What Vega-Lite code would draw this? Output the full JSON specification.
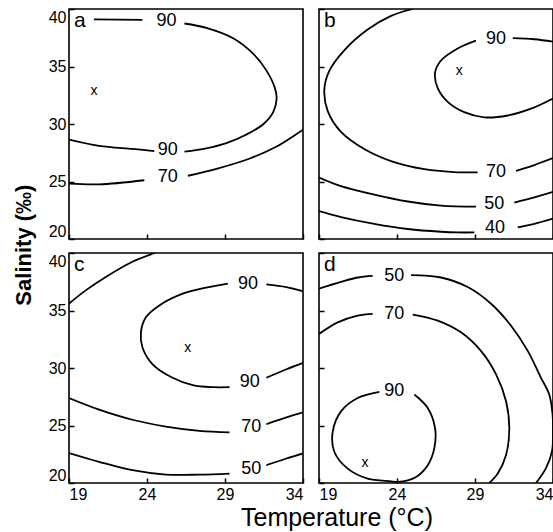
{
  "$schema": "https://vega.github.io/schema/vega-lite/v6.json",
  "padding": {"left": 13, "top": 7, "right": 0, "bottom": 0},
  "background": "white",
  "config": {
    "view": {"stroke": "black", "strokeWidth": 1.6},
    "axis": {"tickSize": -5, "tickColor": "black", "tickWidth": 1.5, "domain": false, "grid": false, "labelFont": "Liberation Sans", "labelFontSize": 16, "labelColor": "black", "labelPadding": 8, "labelFlush": true, "minExtent": 0, "title": null},
    "text": {"font": "Liberation Sans", "color": "black"},
    "title": {"font": "Liberation Sans", "color": "black"}
  },
  "datasets": {
    "lines": [
      {"p":"a","s":"a90_1","i":0,"t":20.6,"sal":39.1},{"p":"a","s":"a90_1","i":1,"t":23.7,"sal":39.05},
      {"p":"a","s":"a90_2","i":0,"t":26.4,"sal":38.74},{"p":"a","s":"a90_2","i":1,"t":27.8,"sal":38.36},{"p":"a","s":"a90_2","i":2,"t":29.52,"sal":37.46},{"p":"a","s":"a90_2","i":3,"t":30.8,"sal":36.12},{"p":"a","s":"a90_2","i":4,"t":31.67,"sal":34.62},{"p":"a","s":"a90_2","i":5,"t":32.2,"sal":33.12},{"p":"a","s":"a90_2","i":6,"t":32.31,"sal":32.22},{"p":"a","s":"a90_2","i":7,"t":32.09,"sal":31.03},{"p":"a","s":"a90_2","i":8,"t":31.45,"sal":29.98},{"p":"a","s":"a90_2","i":9,"t":30.38,"sal":29.09},{"p":"a","s":"a90_2","i":10,"t":29.09,"sal":28.34},{"p":"a","s":"a90_2","i":11,"t":27.8,"sal":27.89},{"p":"a","s":"a90_2","i":12,"t":26.4,"sal":27.6},
      {"p":"a","s":"a90_3","i":0,"t":24.47,"sal":27.65},{"p":"a","s":"a90_3","i":1,"t":23.08,"sal":27.83},{"p":"a","s":"a90_3","i":2,"t":20.93,"sal":28.1},{"p":"a","s":"a90_3","i":3,"t":19,"sal":28.64},
      {"p":"a","s":"a70_1","i":0,"t":19,"sal":24.81},{"p":"a","s":"a70_1","i":1,"t":20.93,"sal":24.75},{"p":"a","s":"a70_1","i":2,"t":23.83,"sal":25.11},
      {"p":"a","s":"a70_2","i":0,"t":26.62,"sal":25.5},{"p":"a","s":"a70_2","i":1,"t":28.45,"sal":26.1},{"p":"a","s":"a70_2","i":2,"t":30.59,"sal":27.0},{"p":"a","s":"a70_2","i":3,"t":32.31,"sal":28.04},{"p":"a","s":"a70_2","i":4,"t":33.38,"sal":28.94},{"p":"a","s":"a70_2","i":5,"t":34,"sal":29.5},

      {"p":"b","s":"b70_1","i":0,"t":25.0,"sal":40},{"p":"b","s":"b70_1","i":1,"t":23.62,"sal":39.4},{"p":"b","s":"b70_1","i":2,"t":22.12,"sal":38.21},{"p":"b","s":"b70_1","i":3,"t":20.62,"sal":36.41},{"p":"b","s":"b70_1","i":4,"t":19.66,"sal":34.62},{"p":"b","s":"b70_1","i":5,"t":19.34,"sal":32.98},{"p":"b","s":"b70_1","i":6,"t":19.56,"sal":31.12},{"p":"b","s":"b70_1","i":7,"t":20.41,"sal":29.31},{"p":"b","s":"b70_1","i":8,"t":21.9,"sal":27.82},{"p":"b","s":"b70_1","i":9,"t":23.62,"sal":26.77},{"p":"b","s":"b70_1","i":10,"t":25.75,"sal":26.07},{"p":"b","s":"b70_1","i":11,"t":27.89,"sal":25.8},{"p":"b","s":"b70_1","i":12,"t":29.17,"sal":25.8},
      {"p":"b","s":"b70_2","i":0,"t":31.63,"sal":25.93},{"p":"b","s":"b70_2","i":1,"t":32.8,"sal":26.43},{"p":"b","s":"b70_2","i":2,"t":34,"sal":27.03},
      {"p":"b","s":"b90_1","i":0,"t":29.06,"sal":37.25},{"p":"b","s":"b90_1","i":1,"t":27.89,"sal":36.57},{"p":"b","s":"b90_1","i":2,"t":26.82,"sal":35.52},{"p":"b","s":"b90_1","i":3,"t":26.44,"sal":34.47},{"p":"b","s":"b90_1","i":4,"t":26.61,"sal":33.12},{"p":"b","s":"b90_1","i":5,"t":27.25,"sal":31.93},{"p":"b","s":"b90_1","i":6,"t":28.31,"sal":31.03},{"p":"b","s":"b90_1","i":7,"t":29.6,"sal":30.58},{"p":"b","s":"b90_1","i":8,"t":31.1,"sal":30.74},{"p":"b","s":"b90_1","i":9,"t":32.59,"sal":31.33},{"p":"b","s":"b90_1","i":10,"t":34,"sal":32.22},
      {"p":"b","s":"b90_2","i":0,"t":31.42,"sal":37.46},{"p":"b","s":"b90_2","i":1,"t":32.8,"sal":37.37},{"p":"b","s":"b90_2","i":2,"t":34,"sal":37.16},
      {"p":"b","s":"b50_1","i":0,"t":19,"sal":25.35},{"p":"b","s":"b50_1","i":1,"t":20.41,"sal":24.6},{"p":"b","s":"b50_1","i":2,"t":22.54,"sal":23.86},{"p":"b","s":"b50_1","i":3,"t":24.69,"sal":23.26},{"p":"b","s":"b50_1","i":4,"t":26.82,"sal":22.9},{"p":"b","s":"b50_1","i":5,"t":29.06,"sal":22.81},
      {"p":"b","s":"b50_2","i":0,"t":31.52,"sal":23.17},{"p":"b","s":"b50_2","i":1,"t":32.8,"sal":23.61},{"p":"b","s":"b50_2","i":2,"t":34,"sal":24.1},
      {"p":"b","s":"b40_1","i":0,"t":19,"sal":22.42},{"p":"b","s":"b40_1","i":1,"t":20.41,"sal":21.91},{"p":"b","s":"b40_1","i":2,"t":22.54,"sal":21.32},{"p":"b","s":"b40_1","i":3,"t":24.69,"sal":20.87},{"p":"b","s":"b40_1","i":4,"t":26.82,"sal":20.63},{"p":"b","s":"b40_1","i":5,"t":27.89,"sal":20.57},{"p":"b","s":"b40_1","i":6,"t":28.96,"sal":20.57},
      {"p":"b","s":"b40_2","i":0,"t":31.74,"sal":21.01},{"p":"b","s":"b40_2","i":1,"t":32.8,"sal":21.32},{"p":"b","s":"b40_2","i":2,"t":34,"sal":21.77},

      {"p":"c","s":"c_top","i":0,"t":19,"sal":35.6},{"p":"c","s":"c_top","i":1,"t":20.07,"sal":36.75},{"p":"c","s":"c_top","i":2,"t":21.36,"sal":37.92},{"p":"c","s":"c_top","i":3,"t":23.07,"sal":39.24},{"p":"c","s":"c_top","i":4,"t":24.5,"sal":40},
      {"p":"c","s":"c90_1","i":0,"t":29.18,"sal":37.34},{"p":"c","s":"c90_1","i":1,"t":27.79,"sal":36.99},{"p":"c","s":"c90_1","i":2,"t":26.29,"sal":36.46},{"p":"c","s":"c90_1","i":3,"t":24.79,"sal":35.44},{"p":"c","s":"c90_1","i":4,"t":23.93,"sal":34.41},{"p":"c","s":"c90_1","i":5,"t":23.61,"sal":33.1},{"p":"c","s":"c90_1","i":6,"t":23.71,"sal":31.78},{"p":"c","s":"c90_1","i":7,"t":24.36,"sal":30.32},{"p":"c","s":"c90_1","i":8,"t":25.64,"sal":29.15},{"p":"c","s":"c90_1","i":9,"t":26.93,"sal":28.51},{"p":"c","s":"c90_1","i":10,"t":28.22,"sal":28.33},{"p":"c","s":"c90_1","i":11,"t":29.29,"sal":28.33},
      {"p":"c","s":"c90_2","i":0,"t":31.65,"sal":37.28},{"p":"c","s":"c90_2","i":1,"t":32.94,"sal":37.04},{"p":"c","s":"c90_2","i":2,"t":34,"sal":36.67},
      {"p":"c","s":"c90_3","i":0,"t":31.65,"sal":29.15},{"p":"c","s":"c90_3","i":1,"t":32.94,"sal":29.89},{"p":"c","s":"c90_3","i":2,"t":34,"sal":30.44},
      {"p":"c","s":"c70_1","i":0,"t":19,"sal":27.39},{"p":"c","s":"c70_1","i":1,"t":20.93,"sal":26.38},{"p":"c","s":"c70_1","i":2,"t":23.07,"sal":25.5},{"p":"c","s":"c70_1","i":3,"t":25.21,"sal":24.91},{"p":"c","s":"c70_1","i":4,"t":27.36,"sal":24.54},{"p":"c","s":"c70_1","i":5,"t":29.29,"sal":24.41},
      {"p":"c","s":"c70_2","i":0,"t":31.65,"sal":25.11},{"p":"c","s":"c70_2","i":1,"t":32.94,"sal":25.7},{"p":"c","s":"c70_2","i":2,"t":34,"sal":26.14},
      {"p":"c","s":"c50_1","i":0,"t":19,"sal":22.6},{"p":"c","s":"c50_1","i":1,"t":20.93,"sal":21.84},{"p":"c","s":"c50_1","i":2,"t":23.07,"sal":21.11},{"p":"c","s":"c50_1","i":3,"t":25.21,"sal":20.73},{"p":"c","s":"c50_1","i":4,"t":27.36,"sal":20.73},{"p":"c","s":"c50_1","i":5,"t":29.29,"sal":20.82},
      {"p":"c","s":"c50_2","i":0,"t":31.65,"sal":21.55},{"p":"c","s":"c50_2","i":1,"t":32.94,"sal":22.13},{"p":"c","s":"c50_2","i":2,"t":34,"sal":22.57},

      {"p":"d","s":"d50_1","i":0,"t":19,"sal":36.9},{"p":"d","s":"d50_1","i":1,"t":20.41,"sal":37.48},{"p":"d","s":"d50_1","i":2,"t":21.48,"sal":37.87},{"p":"d","s":"d50_1","i":3,"t":22.44,"sal":38.01},
      {"p":"d","s":"d50_2","i":0,"t":24.9,"sal":38.07},{"p":"d","s":"d50_2","i":1,"t":26.82,"sal":37.87},{"p":"d","s":"d50_2","i":2,"t":28.53,"sal":37.04},{"p":"d","s":"d50_2","i":3,"t":30.03,"sal":35.59},{"p":"d","s":"d50_2","i":4,"t":31.31,"sal":33.68},{"p":"d","s":"d50_2","i":5,"t":32.38,"sal":31.49},{"p":"d","s":"d50_2","i":6,"t":33.23,"sal":29.15},{"p":"d","s":"d50_2","i":7,"t":33.76,"sal":27.69},{"p":"d","s":"d50_2","i":8,"t":33.97,"sal":26.0},{"p":"d","s":"d50_2","i":9,"t":34.0,"sal":24.5},{"p":"d","s":"d50_2","i":10,"t":33.94,"sal":22.8},{"p":"d","s":"d50_2","i":11,"t":33.55,"sal":21.3},{"p":"d","s":"d50_2","i":12,"t":32.91,"sal":20.0},
      {"p":"d","s":"d70_1","i":0,"t":19,"sal":32.96},{"p":"d","s":"d70_1","i":1,"t":20.2,"sal":33.97},{"p":"d","s":"d70_1","i":2,"t":21.48,"sal":34.56},{"p":"d","s":"d70_1","i":3,"t":22.44,"sal":34.71},
      {"p":"d","s":"d70_2","i":0,"t":25.01,"sal":34.65},{"p":"d","s":"d70_2","i":1,"t":26.61,"sal":34.12},{"p":"d","s":"d70_2","i":2,"t":28.1,"sal":33.1},{"p":"d","s":"d70_2","i":3,"t":29.38,"sal":31.49},{"p":"d","s":"d70_2","i":4,"t":30.35,"sal":29.45},{"p":"d","s":"d70_2","i":5,"t":30.99,"sal":27.11},{"p":"d","s":"d70_2","i":6,"t":31.2,"sal":24.76},{"p":"d","s":"d70_2","i":7,"t":30.99,"sal":22.43},{"p":"d","s":"d70_2","i":8,"t":30.46,"sal":20.82},{"p":"d","s":"d70_2","i":9,"t":29.92,"sal":20.0},
      {"p":"d","s":"d90","i":0,"t":22.87,"sal":27.92},{"p":"d","s":"d90","i":1,"t":21.48,"sal":27.39},{"p":"d","s":"d90","i":2,"t":20.41,"sal":26.23},{"p":"d","s":"d90","i":3,"t":19.88,"sal":24.47},{"p":"d","s":"d90","i":4,"t":19.98,"sal":22.72},{"p":"d","s":"d90","i":5,"t":20.84,"sal":21.25},{"p":"d","s":"d90","i":6,"t":22.12,"sal":20.38},{"p":"d","s":"d90","i":7,"t":23.62,"sal":20.15},{"p":"d","s":"d90","i":8,"t":24.04,"sal":20.09},{"p":"d","s":"d90","i":9,"t":25.22,"sal":20.53},{"p":"d","s":"d90","i":10,"t":25.97,"sal":21.55},{"p":"d","s":"d90","i":11,"t":26.39,"sal":23.01},{"p":"d","s":"d90","i":12,"t":26.44,"sal":24.76},{"p":"d","s":"d90","i":13,"t":25.97,"sal":26.52},{"p":"d","s":"d90","i":14,"t":25.11,"sal":27.69}
    ],
    "labels": [
      {"p":"a","t":25.25,"sal":39.0,"txt":"90"},{"p":"a","t":25.33,"sal":27.74,"txt":"90"},{"p":"a","t":25.33,"sal":25.35,"txt":"70"},
      {"p":"b","t":30.35,"sal":37.37,"txt":"90"},{"p":"b","t":30.35,"sal":25.84,"txt":"70"},{"p":"b","t":30.24,"sal":23.05,"txt":"50"},{"p":"b","t":30.28,"sal":20.92,"txt":"40"},
      {"p":"c","t":30.47,"sal":37.34,"txt":"90"},{"p":"c","t":30.58,"sal":28.8,"txt":"90"},{"p":"c","t":30.68,"sal":24.91,"txt":"70"},{"p":"c","t":30.68,"sal":21.25,"txt":"50"},
      {"p":"d","t":23.83,"sal":38.01,"txt":"50"},{"p":"d","t":23.83,"sal":34.71,"txt":"70"},{"p":"d","t":23.83,"sal":27.98,"txt":"90"}
    ],
    "marks": [
      {"p":"a","t":20.61,"sal":32.83,"txt":"x"},{"p":"b","t":27.99,"sal":34.62,"txt":"x"},{"p":"c","t":26.61,"sal":31.73,"txt":"x"},{"p":"d","t":21.95,"sal":21.78,"txt":"x"}
    ],
    "letters": [
      {"p":"a","t":19,"sal":40,"txt":"a"},{"p":"b","t":19,"sal":40,"txt":"b"},{"p":"c","t":19,"sal":40,"txt":"c"},{"p":"d","t":19,"sal":40,"txt":"d"}
    ]
  },
  "title": {"text": "Salinity (‰)", "orient": "left", "anchor": "middle", "fontSize": 22, "fontWeight": "bold", "offset": 11, "dx": 24},
  "spacing": 10,
  "vconcat": [
    {
      "spacing": 12,
      "hconcat": [
        {
          "width": 234, "height": 230,
          "layer": [
            {"data": {"name": "lines"}, "transform": [{"filter": "datum.p === 'a'"}], "mark": {"type": "line", "interpolate": "catmull-rom", "color": "black", "strokeWidth": 1.8, "clip": true},
             "encoding": {"x": {"field": "t", "type": "quantitative", "scale": {"domain": [19, 34], "nice": false, "zero": false}, "axis": {"values": [19, 24, 29, 34], "labels": false}},
                          "y": {"field": "sal", "type": "quantitative", "scale": {"domain": [20, 40], "nice": false, "zero": false}, "axis": {"values": [20, 25, 30, 35, 40]}},
                          "detail": {"field": "s"}, "order": {"field": "i"}}},
            {"data": {"name": "labels"}, "transform": [{"filter": "datum.p === 'a'"}], "mark": {"type": "text", "fontSize": 18}, "encoding": {"x": {"field": "t", "type": "quantitative"}, "y": {"field": "sal", "type": "quantitative"}, "text": {"field": "txt"}}},
            {"data": {"name": "marks"}, "transform": [{"filter": "datum.p === 'a'"}], "mark": {"type": "text", "fontSize": 14}, "encoding": {"x": {"field": "t", "type": "quantitative"}, "y": {"field": "sal", "type": "quantitative"}, "text": {"field": "txt"}}},
            {"data": {"name": "letters"}, "transform": [{"filter": "datum.p === 'a'"}], "mark": {"type": "text", "fontSize": 21, "align": "left", "baseline": "top", "dx": 5, "dy": 1}, "encoding": {"x": {"field": "t", "type": "quantitative"}, "y": {"field": "sal", "type": "quantitative"}, "text": {"field": "txt"}}}
          ]
        },
        {
          "width": 234, "height": 230,
          "layer": [
            {"data": {"name": "lines"}, "transform": [{"filter": "datum.p === 'b'"}], "mark": {"type": "line", "interpolate": "catmull-rom", "color": "black", "strokeWidth": 1.8, "clip": true},
             "encoding": {"x": {"field": "t", "type": "quantitative", "scale": {"domain": [19, 34], "nice": false, "zero": false}, "axis": {"values": [19, 24, 29, 34], "labels": false}},
                          "y": {"field": "sal", "type": "quantitative", "scale": {"domain": [20, 40], "nice": false, "zero": false}, "axis": {"values": [20, 25, 30, 35, 40], "labels": false}},
                          "detail": {"field": "s"}, "order": {"field": "i"}}},
            {"data": {"name": "labels"}, "transform": [{"filter": "datum.p === 'b'"}], "mark": {"type": "text", "fontSize": 18}, "encoding": {"x": {"field": "t", "type": "quantitative"}, "y": {"field": "sal", "type": "quantitative"}, "text": {"field": "txt"}}},
            {"data": {"name": "marks"}, "transform": [{"filter": "datum.p === 'b'"}], "mark": {"type": "text", "fontSize": 14}, "encoding": {"x": {"field": "t", "type": "quantitative"}, "y": {"field": "sal", "type": "quantitative"}, "text": {"field": "txt"}}},
            {"data": {"name": "letters"}, "transform": [{"filter": "datum.p === 'b'"}], "mark": {"type": "text", "fontSize": 21, "align": "left", "baseline": "top", "dx": 5, "dy": 1}, "encoding": {"x": {"field": "t", "type": "quantitative"}, "y": {"field": "sal", "type": "quantitative"}, "text": {"field": "txt"}}}
          ]
        }
      ]
    },
    {
      "spacing": 12,
      "title": {"text": "Temperature (°C)", "orient": "bottom", "anchor": "middle", "fontSize": 25, "fontWeight": "normal", "offset": 3, "dx": 36},
      "hconcat": [
        {
          "width": 234, "height": 230,
          "layer": [
            {"data": {"name": "lines"}, "transform": [{"filter": "datum.p === 'c'"}], "mark": {"type": "line", "interpolate": "catmull-rom", "color": "black", "strokeWidth": 1.8, "clip": true},
             "encoding": {"x": {"field": "t", "type": "quantitative", "scale": {"domain": [19, 34], "nice": false, "zero": false}, "axis": {"values": [19, 24, 29, 34]}},
                          "y": {"field": "sal", "type": "quantitative", "scale": {"domain": [20, 40], "nice": false, "zero": false}, "axis": {"values": [20, 25, 30, 35, 40]}},
                          "detail": {"field": "s"}, "order": {"field": "i"}}},
            {"data": {"name": "labels"}, "transform": [{"filter": "datum.p === 'c'"}], "mark": {"type": "text", "fontSize": 18}, "encoding": {"x": {"field": "t", "type": "quantitative"}, "y": {"field": "sal", "type": "quantitative"}, "text": {"field": "txt"}}},
            {"data": {"name": "marks"}, "transform": [{"filter": "datum.p === 'c'"}], "mark": {"type": "text", "fontSize": 14}, "encoding": {"x": {"field": "t", "type": "quantitative"}, "y": {"field": "sal", "type": "quantitative"}, "text": {"field": "txt"}}},
            {"data": {"name": "letters"}, "transform": [{"filter": "datum.p === 'c'"}], "mark": {"type": "text", "fontSize": 21, "align": "left", "baseline": "top", "dx": 5, "dy": 1}, "encoding": {"x": {"field": "t", "type": "quantitative"}, "y": {"field": "sal", "type": "quantitative"}, "text": {"field": "txt"}}}
          ]
        },
        {
          "width": 234, "height": 230,
          "layer": [
            {"data": {"name": "lines"}, "transform": [{"filter": "datum.p === 'd'"}], "mark": {"type": "line", "interpolate": "catmull-rom", "color": "black", "strokeWidth": 1.8, "clip": true},
             "encoding": {"x": {"field": "t", "type": "quantitative", "scale": {"domain": [19, 34], "nice": false, "zero": false}, "axis": {"values": [19, 24, 29, 34]}},
                          "y": {"field": "sal", "type": "quantitative", "scale": {"domain": [20, 40], "nice": false, "zero": false}, "axis": {"values": [20, 25, 30, 35, 40], "labels": false}},
                          "detail": {"field": "s"}, "order": {"field": "i"}}},
            {"data": {"name": "labels"}, "transform": [{"filter": "datum.p === 'd'"}], "mark": {"type": "text", "fontSize": 18}, "encoding": {"x": {"field": "t", "type": "quantitative"}, "y": {"field": "sal", "type": "quantitative"}, "text": {"field": "txt"}}},
            {"data": {"name": "marks"}, "transform": [{"filter": "datum.p === 'd'"}], "mark": {"type": "text", "fontSize": 14}, "encoding": {"x": {"field": "t", "type": "quantitative"}, "y": {"field": "sal", "type": "quantitative"}, "text": {"field": "txt"}}},
            {"data": {"name": "letters"}, "transform": [{"filter": "datum.p === 'd'"}], "mark": {"type": "text", "fontSize": 21, "align": "left", "baseline": "top", "dx": 5, "dy": 1}, "encoding": {"x": {"field": "t", "type": "quantitative"}, "y": {"field": "sal", "type": "quantitative"}, "text": {"field": "txt"}}}
          ]
        }
      ]
    }
  ]
}
